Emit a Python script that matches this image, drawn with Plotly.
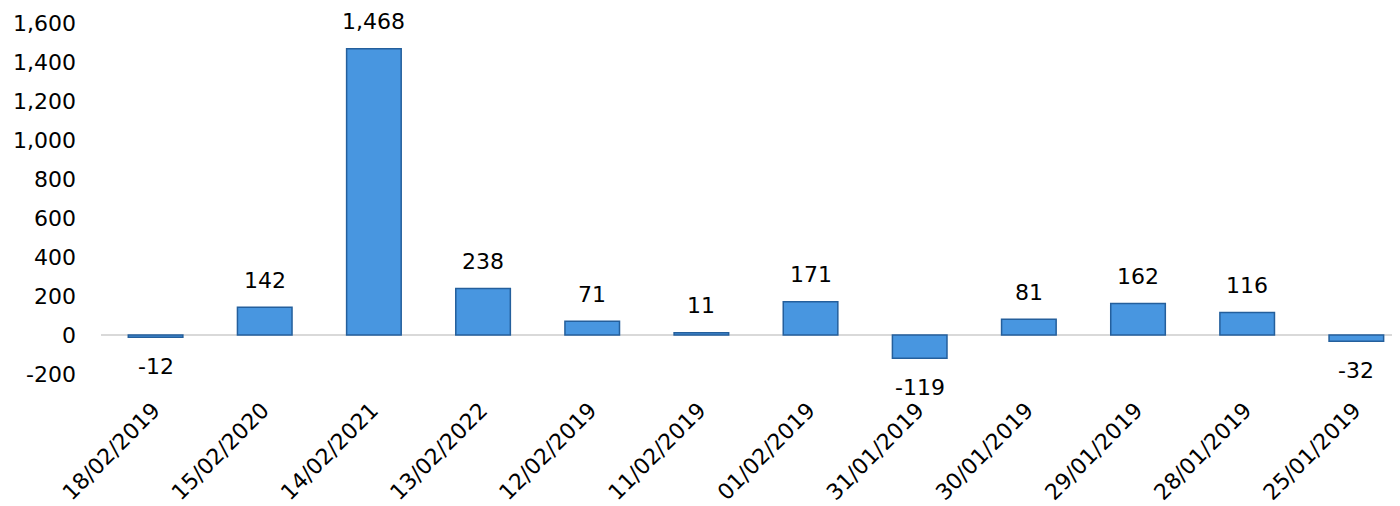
import plotly.graph_objects as go

categories = ["18/02/2019", "15/02/2020", "14/02/2021", "13/02/2022", "12/02/2019", "11/02/2019",
              "01/02/2019", "31/01/2019", "30/01/2019", "29/01/2019", "28/01/2019", "25/01/2019"]
values = [-12, 142, 1468, 238, 71, 11, 171, -119, 81, 162, 116, -32]
y_ticks = [-200, 0, 200, 400, 600, 800, 1000, 1200, 1400, 1600]
y_tick_labels = ["-200", "0", "200", "400", "600", "800", "1,000", "1,200", "1,400", "1,600"]

FONT = "DejaVu Sans"

fig = go.Figure()
fig.add_trace(go.Bar(
    x=categories, y=values,
    marker=dict(color="#4896E0", line=dict(color="#245F9C", width=1.5)),
    width=0.5,
    hoverinfo="x+y",
))

for c, v in zip(categories, values):
    fig.add_annotation(
        x=c, y=v, text=f"{v:,}", showarrow=False,
        yanchor="middle", yshift=27 if v >= 0 else -29,
        font=dict(family=FONT, size=22, color="#000000"),
    )

fig.update_layout(
    width=1392, height=498,
    margin=dict(l=93, r=0, t=15, b=132),
    paper_bgcolor="white", plot_bgcolor="white",
    showlegend=False,
    font=dict(family=FONT, size=22, color="#000000"),
    xaxis=dict(
        type="category", range=[-0.5, 11.4], automargin=False,
        tickangle=-45, showgrid=False, showline=False, ticks="",
        zeroline=False, tickfont=dict(family=FONT, size=22),
        ticklabelshift=-2, ticklabelstandoff=18,
    ),
    yaxis=dict(
        range=[-200, 1600], tickvals=y_ticks, ticktext=y_tick_labels,
        showgrid=False, showline=False, ticks="", automargin=False,
        zeroline=True, zerolinecolor="#D9D9D9", zerolinewidth=2,
        ticklabelstandoff=24, tickfont=dict(family=FONT, size=22),
    ),
)

fig.write_html("out.html")
